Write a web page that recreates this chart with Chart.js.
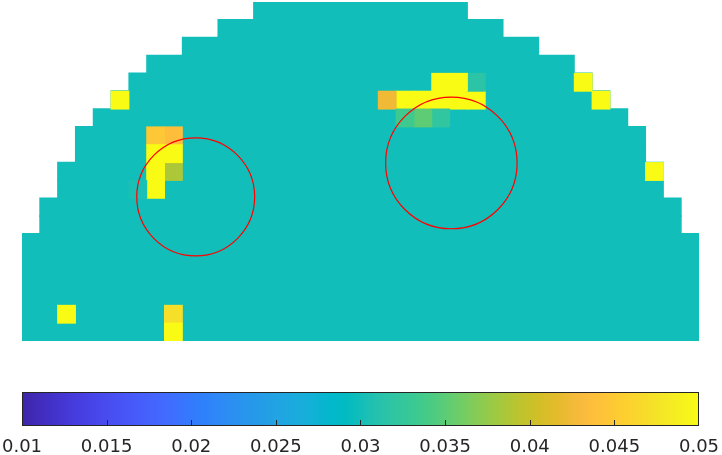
<!DOCTYPE html>
<html>
<head>
<meta charset="utf-8">
<script src="https://cdn.jsdelivr.net/npm/chart.js@4.4.0/dist/chart.umd.min.js"></script>
<style>
  body { margin: 0; background: #fff; width: 722px; height: 455px; position: relative; overflow: hidden; }
  #mapBox { position: absolute; left: 22px; top: 2px; width: 677px; height: 339px; }
  #barBox { position: absolute; left: 0; top: 385px; width: 722px; height: 70px; }
</style>
</head>
<body>
<div id="mapBox"><canvas id="map"></canvas></div>
<div id="barBox"><canvas id="bar"></canvas></div>
<script>
// grid rows, top to bottom: first and last filled column
const rowStart = [13, 11, 9, 7, 6, 5, 4, 3, 3, 2, 2, 1, 1, 0, 0, 0, 0, 0, 0];
const rowEnd   = [24, 26, 28, 30, 31, 32, 33, 34, 34, 35, 35, 36, 36, 37, 37, 37, 37, 37, 37];
const nCols = 38;
const baseValue = 0.03;

// cells that differ from the background value
const cellCol   = [5, 31, 32, 35, 7, 8, 7, 8, 7, 8, 6, 7, 2, 8, 8,
                   23, 24, 25, 20, 21, 22, 23, 24, 25, 21, 22, 23];
const cellRow   = [5, 4, 5, 9, 7, 7, 8, 8, 9, 9, 10, 10, 17, 17, 18,
                   4, 4, 4, 5, 5, 5, 5, 5, 5, 6, 6, 6];
const cellValue = [0.051, 0.051, 0.051, 0.051, 0.0447, 0.0437, 0.051, 0.051, 0.051, 0.0386, 0.0304, 0.051, 0.051, 0.0471, 0.051,
                   0.051, 0.051, 0.0316, 0.0424, 0.051, 0.051, 0.051, 0.051, 0.051, 0.0334, 0.0351, 0.0322];

// red circles (cell units, y measured from top)
const circleX = [9.75, 24.1];
const circleY = [10.92, 9.02];
const circleR = [3.31, 3.69];

const cRange = [0.01, 0.05];
const tickValues = [0.01, 0.015, 0.02, 0.025, 0.03, 0.035, 0.04, 0.045, 0.05];
const tickLabels = ['0.01', '0.015', '0.02', '0.025', '0.03', '0.035', '0.04', '0.045', '0.05'];

const parula = [
  [0.2422,0.1504,0.6603],[0.2504,0.1650,0.7076],[0.2578,0.1818,0.7511],[0.2647,0.1978,0.7952],
  [0.2706,0.2147,0.8364],[0.2751,0.2342,0.8710],[0.2783,0.2559,0.8991],[0.2803,0.2782,0.9221],
  [0.2813,0.3006,0.9414],[0.2810,0.3228,0.9579],[0.2795,0.3447,0.9717],[0.2760,0.3667,0.9829],
  [0.2699,0.3892,0.9906],[0.2602,0.4123,0.9952],[0.2440,0.4358,0.9988],[0.2206,0.4603,0.9973],
  [0.1963,0.4847,0.9892],[0.1834,0.5074,0.9798],[0.1786,0.5289,0.9682],[0.1764,0.5499,0.9520],
  [0.1687,0.5703,0.9359],[0.1540,0.5902,0.9218],[0.1460,0.6091,0.9079],[0.1380,0.6276,0.8973],
  [0.1248,0.6459,0.8883],[0.1113,0.6635,0.8763],[0.0952,0.6798,0.8598],[0.0689,0.6948,0.8394],
  [0.0297,0.7082,0.8163],[0.0036,0.7203,0.7917],[0.0067,0.7312,0.7660],[0.0433,0.7411,0.7394],
  [0.0964,0.7500,0.7120],[0.1408,0.7584,0.6842],[0.1717,0.7670,0.6554],[0.1938,0.7758,0.6251],
  [0.2161,0.7843,0.5923],[0.2470,0.7918,0.5567],[0.2906,0.7973,0.5188],[0.3406,0.8008,0.4789],
  [0.3909,0.8029,0.4354],[0.4456,0.8024,0.3909],[0.5044,0.7993,0.3480],[0.5616,0.7942,0.3045],
  [0.6174,0.7876,0.2612],[0.6720,0.7793,0.2227],[0.7242,0.7698,0.1910],[0.7738,0.7598,0.1646],
  [0.8203,0.7498,0.1535],[0.8634,0.7406,0.1596],[0.9035,0.7330,0.1774],[0.9393,0.7288,0.2100],
  [0.9728,0.7298,0.2394],[0.9956,0.7434,0.2371],[0.9970,0.7659,0.2199],[0.9952,0.7893,0.2028],
  [0.9892,0.8136,0.1885],[0.9786,0.8386,0.1766],[0.9676,0.8639,0.1643],[0.9610,0.8890,0.1537],
  [0.9597,0.9135,0.1423],[0.9628,0.9373,0.1265],[0.9691,0.9606,0.1064],[0.9769,0.9839,0.0805]
];

function rgb(p) {
  return 'rgb(' + p.map(a => Math.round(a * 255)).join(',') + ')';
}

function cmap(v) {
  const n = parula.length - 1;
  let p = (v - cRange[0]) / (cRange[1] - cRange[0]) * n;
  p = Math.max(0, Math.min(n, p));
  const i = Math.min(Math.floor(p), n - 1), t = p - i;
  return rgb(parula[i].map((a, k) => a + (parula[i + 1][k] - a) * t));
}

Chart.defaults.font.family = 'DejaVu Sans';

const rowLabels = rowStart.map((_, i) => String(i));

// special cells, split into layers with at most one cell per row
const layers = [];
cellCol.forEach((c, k) => {
  const r = cellRow[k];
  let L = layers.find(l => l.data[r] === null);
  if (!L) {
    L = { data: rowLabels.map(() => null), backgroundColor: rowLabels.map(() => 'rgba(0,0,0,0)'), order: 0 };
    layers.push(L);
  }
  L.data[r] = [c, c + 1];
  L.backgroundColor[r] = cmap(cellValue[k]);
});

// background rows drawn underneath (higher order = drawn first)
const datasets = [{
  data: rowStart.map((s, i) => [s, rowEnd[i] + 1]),
  backgroundColor: cmap(baseValue),
  barPercentage: 1.04,
  order: 1
}].concat(layers);

const circlePlugin = {
  id: 'circles',
  afterDatasetsDraw(chart) {
    const ctx = chart.ctx, xs = chart.scales.x, ys = chart.scales.yc;
    ctx.save();
    ctx.strokeStyle = '#ff0000';
    ctx.lineWidth = 1.2;
    circleX.forEach((cx, i) => {
      const px = xs.getPixelForValue(cx), py = ys.getPixelForValue(circleY[i]);
      const rx = Math.abs(xs.getPixelForValue(cx + circleR[i]) - px);
      const ry = Math.abs(ys.getPixelForValue(circleY[i] + circleR[i]) - py);
      ctx.beginPath();
      ctx.ellipse(px, py, rx, ry, 0, 0, 2 * Math.PI);
      ctx.stroke();
    });
    ctx.restore();
  }
};

new Chart(document.getElementById('map'), {
  type: 'bar',
  data: { labels: rowLabels, datasets: datasets },
  options: {
    indexAxis: 'y',
    animation: false,
    responsive: true,
    maintainAspectRatio: false,
    layout: { padding: 0 },
    datasets: {
      bar: { grouped: false, barPercentage: 1, categoryPercentage: 1, borderWidth: 0, inflateAmount: 0.5 }
    },
    scales: {
      x: { type: 'linear', min: 0, max: nCols, display: false },
      y: { type: 'category', display: false, offset: true },
      yc: { axis: 'y', type: 'linear', min: 0, max: rowLabels.length, reverse: true, offset: false, grace: 0, display: false }
    },
    plugins: { legend: { display: false }, tooltip: { enabled: false } }
  },
  plugins: [circlePlugin]
});

// colorbar
const tickPlugin = {
  id: 'cbTicks',
  afterDatasetsDraw(chart) {
    const ctx = chart.ctx, a = chart.chartArea, xs = chart.scales.x;
    ctx.save();
    ctx.strokeStyle = '#262626';
    ctx.lineWidth = 1;
    tickValues.slice(1, -1).forEach(v => {
      const x = Math.round(xs.getPixelForValue(v)) + 0.5;
      ctx.beginPath();
      ctx.moveTo(x, a.bottom);
      ctx.lineTo(x, a.bottom - 6);
      ctx.stroke();
    });
    ctx.restore();
  }
};

new Chart(document.getElementById('bar'), {
  type: 'bar',
  data: {
    labels: ['cb'],
    datasets: [{
      data: [cRange],
      backgroundColor: c => {
        const a = c.chart.chartArea;
        if (!a) return null;
        const g = c.chart.ctx.createLinearGradient(a.left, 0, a.right, 0);
        parula.forEach((p, i) => g.addColorStop(i / (parula.length - 1), rgb(p)));
        return g;
      },
      borderColor: '#262626',
      borderWidth: 1,
      borderSkipped: false,
      inflateAmount: 0,
      barPercentage: 1,
      categoryPercentage: 1
    }]
  },
  options: {
    indexAxis: 'y',
    animation: false,
    responsive: true,
    maintainAspectRatio: false,
    layout: { padding: { left: 22, right: 23, top: 7, bottom: 0 } },
    scales: {
      x: {
        type: 'linear', min: cRange[0], max: cRange[1],
        afterBuildTicks: s => { s.ticks = tickValues.map(v => ({ value: v })); },
        afterFit: s => { s.height = 29; s.paddingLeft = 0; s.paddingRight = 0; },
        grid: { display: false, drawTicks: false },
        border: { display: false },
        ticks: {
          padding: 11,
          color: '#262626',
          font: { family: 'DejaVu Sans', size: 18, lineHeight: 1.2 },
          maxRotation: 0,
          autoSkip: false,
          callback: (v, i) => tickLabels[i]
        }
      },
      y: { type: 'category', display: false, offset: true }
    },
    plugins: { legend: { display: false }, tooltip: { enabled: false } }
  },
  plugins: [tickPlugin]
});
</script>
</body>
</html>
